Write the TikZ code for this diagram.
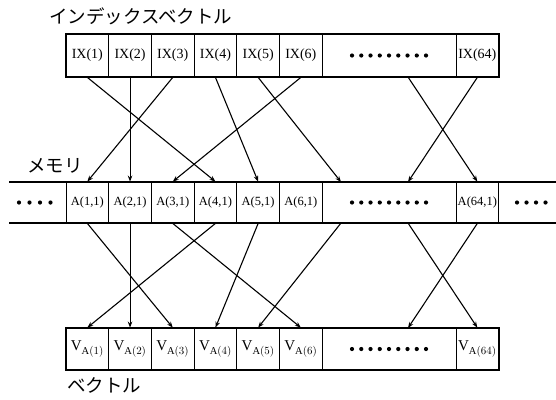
\documentclass[tikz,border=0pt]{standalone}
\usepackage{fontspec}
\setmainfont{Liberation Serif}
\newfontfamily\jpfont{Noto Sans CJK JP}
\usetikzlibrary{arrows.meta, positioning, calc}

\begin{document}
\begin{tikzpicture}[x=1pt, y=-1pt,
        >=Stealth,
        cell/.style={draw, line width=0.8pt, minimum width=42.7pt, minimum height=43pt,
                     inner sep=0pt, font=\fontsize{14}{16}\selectfont},
        memcell/.style={cell, minimum height=41pt, font=\fontsize{12.5}{14}\selectfont},
        vcell/.style={cell, minimum height=42pt, font=\fontsize{15}{17}\selectfont},
        dotcell/.style={minimum width=134pt, minimum height=41pt, inner sep=0pt},
        frame/.style={line width=2pt},
        link/.style={-{Stealth[length=6pt,width=4.5pt]}, line width=1.1pt},
        jp/.style={font=\jpfont\fontsize{18.5}{20}\selectfont, inner sep=0pt, anchor=west},
        bdot/.style={circle, fill, inner sep=0pt, minimum size=4.2pt},
      ]
        \useasboundingbox (0,0) rectangle (556,399);
        % labels
        \node[jp] (title)    at (49,16)  {インデックスベクトル};
        \node[jp] (memlabel) at (27,166) {メモリ};
        \node[jp] (veclabel) at (67,385) {ベクトル};
        % index vector
        \foreach \i in {1,...,6}
          \node[cell] (ix\i) at ({66+42.7*(\i-0.5)},55.5) {IX(\i)};
        \node[cell, minimum width=134pt] (ixd) at (389,55.5) {};
        \node[cell] (ix64) at (477.35,55.5) {IX(64)};
        \foreach \k in {0,...,8}
          \node[bdot] (ixdot\k) at ({352+9.25*\k},55.5) {};
        \draw[frame] (ix1.north west) rectangle (ix64.south east);
        % memory
        \foreach \i in {1,...,6}
          \node[memcell] (a\i) at ({66+42.7*(\i-0.5)},202.5) {A(\i,1)};
        \node[dotcell] (ad) at (389,202.5) {};
        \node[memcell] (a64) at (477.35,202.5) {A(64,1)};
        \foreach \k in {0,...,8}
          \node[bdot] (adot\k) at ({352+9.25*\k},202.5) {};
        \foreach \k in {0,...,3}
          \node[bdot] (ldot\k) at ({19+10.5*\k},202.5) {};
        \foreach \k in {0,...,3}
          \node[bdot] (rdot\k) at ({517+9.5*\k},202.5) {};
        \coordinate (memtl) at (9,182);
        \coordinate (memtr) at (556,182);
        \coordinate (membl) at (9,223);
        \coordinate (membr) at (556,223);
        \draw[frame] (memtl) -- (memtr);
        \draw[frame] (membl) -- (membr);
        % vector
        \foreach \i in {1,...,6}
          \node[vcell] (v\i) at ({66+42.7*(\i-0.5)},349) {V$_{\mathrm{A}(\i)}$};
        \node[cell, minimum width=134pt, minimum height=42pt] (vd) at (389,349) {};
        \node[vcell] (v64) at (477.35,349) {V$_{\mathrm{A}(64)}$};
        \foreach \k in {0,...,8}
          \node[bdot] (vdot\k) at ({352+9.25*\k},349) {};
        \draw[frame] (v1.north west) rectangle (v64.south east);
        % free ends in the dotted parts
        \coordinate (ixs) at (408,77);
        \coordinate (amt) at (341,182);
        \coordinate (ant) at (408,182);
        \coordinate (amb) at (341,223);
        \coordinate (anb) at (408,223);
        \coordinate (vn)  at (408,328);
        % index vector -> memory
        \draw[link] (ix1.south) -- (a4.north);
        \draw[link] (ix2.south) -- (a2.north);
        \draw[link] (ix3.south) -- (a1.north);
        \draw[link] (ix4.south) -- (a5.north);
        \draw[link] (ix5.south) -- (amt);
        \draw[link] (ix6.south) -- (a3.north);
        \draw[link] (ixs) -- (a64.north);
        \draw[link] (ix64.south) -- (ant);
        % memory -> vector
        \draw[link] (a1.south) -- (v3.north);
        \draw[link] (a2.south) -- (v2.north);
        \draw[link] (a3.south) -- (v6.north);
        \draw[link] (a4.south) -- (v1.north);
        \draw[link] (a5.south) -- (v4.north);
        \draw[link] (amb) -- (v5.north);
        \draw[link] (anb) -- (v64.north);
        \draw[link] (a64.south) -- (vn);
      \end{tikzpicture}
\end{document}
